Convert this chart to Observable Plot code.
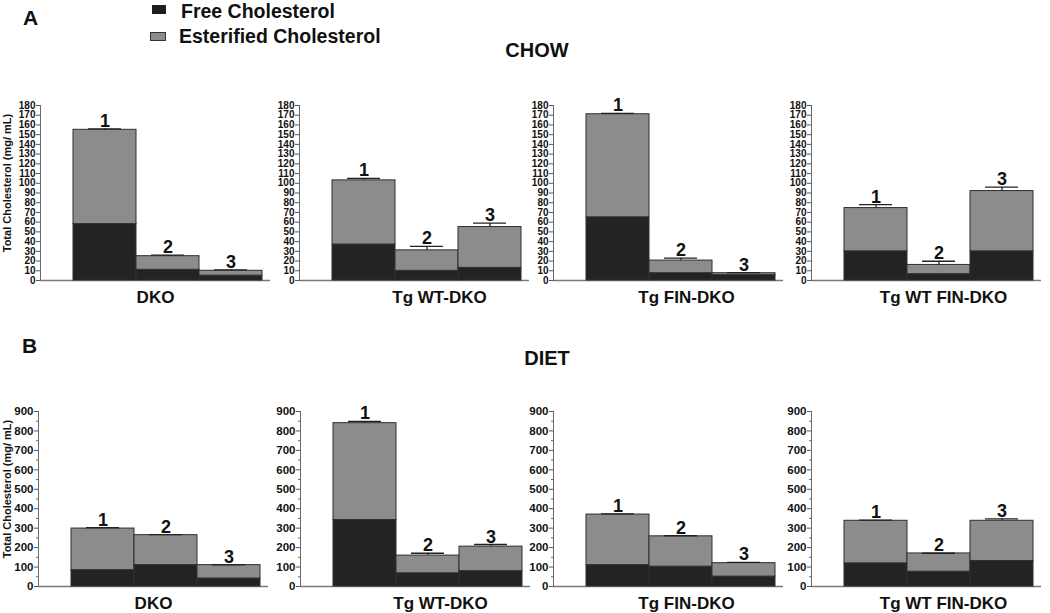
<!DOCTYPE html>
<html><head><meta charset="utf-8">
<script src="https://cdn.jsdelivr.net/npm/d3@7"></script>
<script src="https://cdn.jsdelivr.net/npm/@observablehq/plot@0.6"></script>
<style>
body{margin:0;background:#fff;font-family:"Liberation Sans",Arial,sans-serif;font-weight:bold;color:#111}
#fig{position:relative;width:1050px;height:613px;overflow:hidden;background:#fff}
.abs{position:absolute;white-space:nowrap}
</style></head><body><div id="fig"></div>
<script>
// ---- data ----
const groups = ["DKO", "Tg WT-DKO", "Tg FIN-DKO", "Tg WT FIN-DKO"];
const barIds = ["1", "2", "3"];
const series = ["Free Cholesterol", "Esterified Cholesterol"];
const yLabel = "Total Cholesterol (mg/ mL)";
const chowFree  = [[58, 11, 5], [37, 10, 13], [65, 7.5, 5.5], [30, 6.5, 30]];
const chowEster = [[97, 14, 5], [66, 21, 42], [106, 13, 2], [44.5, 9.5, 62]];
const chowSem   = [[1, 1, 1], [2, 4, 4], [1, 2.5, 0.7], [3.5, 3.8, 4]];
const dietFree  = [[84, 110, 41], [342, 68, 79], [110, 102, 51], [119, 76, 131]];
const dietEster = [[214, 154, 69], [498, 91, 126], [260, 156, 69], [219, 94, 207]];
const dietSem   = [[5, 3, 1], [9, 12, 11], [3, 3, 4], [3, 1, 10]];
const chowTicks = [0,10,20,30,40,50,60,70,80,90,100,110,120,130,140,150,160,170,180];
const dietTicks = [0,100,200,300,400,500,600,700,800,900];
const dietMinor = [50,150,250,350,450,550,650,750,850];

const fig = document.getElementById("fig");
function addText(txt, left, top, size, center) {
  const d = document.createElement("div");
  d.className = "abs";
  d.textContent = txt;
  d.style.left = left + "px";
  d.style.top = top + "px";
  d.style.fontSize = size + "px";
  d.style.lineHeight = Math.round(size * 1.15) + "px";
  if (center) d.style.transform = "translateX(-50%)";
  fig.appendChild(d);
}
function addBox(left, top, w, h, bg, border) {
  const d = document.createElement("div");
  d.className = "abs";
  Object.assign(d.style, {left: left + "px", top: top + "px", width: w + "px", height: h + "px", background: bg, boxSizing: "border-box", border: border || "none"});
  fig.appendChild(d);
}

// legend & headings
addBox(152, 5, 14, 9, "#1e1e1e");
addBox(150, 32, 16, 9, "#8c8c8c", "1px solid #333");
addText(series[0], 181, 0, 19.5);
addText(series[1], 179, 25, 19.5);
addText("A", 23, 5.5, 21);
addText("B", 22, 333.5, 21);
addText("CHOW", 537, 39, 20, true);
addText("DIET", 547, 347, 20, true);

const colors = ["#232323", "#8c8c8c"];
const labelDx = [0, 25, 18, 17];

function panel(gi, free, ester, sem, ticks, minor, ymax, tickFont, left, top) {
  const stack = [];
  barIds.forEach((b, i) => {
    stack.push({bar: b, series: series[0], value: free[gi][i]});
    stack.push({bar: b, series: series[1], value: ester[gi][i]});
  });
  const errs = barIds.map((b, i) => ({bar: b, total: free[gi][i] + ester[gi][i], top: free[gi][i] + ester[gi][i] + sem[gi][i]}));
  const ML = 40, W = 270, H = 240, MT = 40, MB = 25;
  const marks = [
    Plot.ruleY([0], {stroke: "#7a7a7a", strokeWidth: 1.5}),
    Plot.frame({anchor: "left", stroke: "#6a6a6a"}),
  ];
  if (minor) marks.push(Plot.axisY(minor, {tickSize: 2, tickFormat: () => "", stroke: "#6a6a6a", label: null}));
  marks.push(
    Plot.axisY(ticks, {tickSize: 4, tickPadding: 1, fontSize: tickFont, stroke: "#555", fill: "#111", label: null}),
    Plot.barY(stack, {x: "bar", y: "value", fill: "series", stroke: "#2e2e2e", strokeWidth: 1}),
    Plot.ruleX(errs, {x: "bar", y1: "total", y2: "top", stroke: "#222", strokeWidth: 1.3}),
    Plot.tickY(errs, {x: "bar", y: "top", insetLeft: 15, insetRight: 15, stroke: "#222", strokeWidth: 1.3}),
    Plot.text(errs, {x: "bar", y: "top", text: "bar", lineAnchor: "bottom", dy: -2, fontSize: 18, fill: "#111"}),
    Plot.text([groups[gi]], {frameAnchor: "bottom", dx: labelDx[gi], dy: 17, lineAnchor: "middle", fontSize: 17, fill: "#111"})
  );
  if (gi === 0) marks.push(Plot.text([yLabel], {frameAnchor: "left", textAnchor: "middle", lineAnchor: "middle", rotate: -90, dx: 7 - (left + ML), dy: -10, fontSize: 11, fill: "#111"}));
  const svg = Plot.plot({
    width: W, height: H, marginLeft: ML, marginRight: 0, marginTop: MT, marginBottom: MB,
    style: {background: "transparent", overflow: "visible", fontFamily: "'Liberation Sans', Arial, sans-serif", fontWeight: "bold", color: "#111"},
    x: {type: "band", domain: barIds, range: [ML + 33, ML + 222], padding: 0, axis: null},
    y: {domain: [0, ymax], axis: null},
    color: {domain: series, range: colors},
    marks
  });
  const wrap = document.createElement("div");
  wrap.className = "abs";
  wrap.style.left = left + "px";
  wrap.style.top = top + "px";
  wrap.appendChild(svg);
  fig.appendChild(wrap);
}

const topLefts = [0, 259, 513, 771];
const botLefts = [-2, 260, 513, 771];
groups.forEach((g, gi) => {
  panel(gi, chowFree, chowEster, chowSem, chowTicks, null, 180, 10, topLefts[gi], 65);
  panel(gi, dietFree, dietEster, dietSem, dietTicks, dietMinor, 900, 11.5, botLefts[gi], 371);
});
</script></body></html>
